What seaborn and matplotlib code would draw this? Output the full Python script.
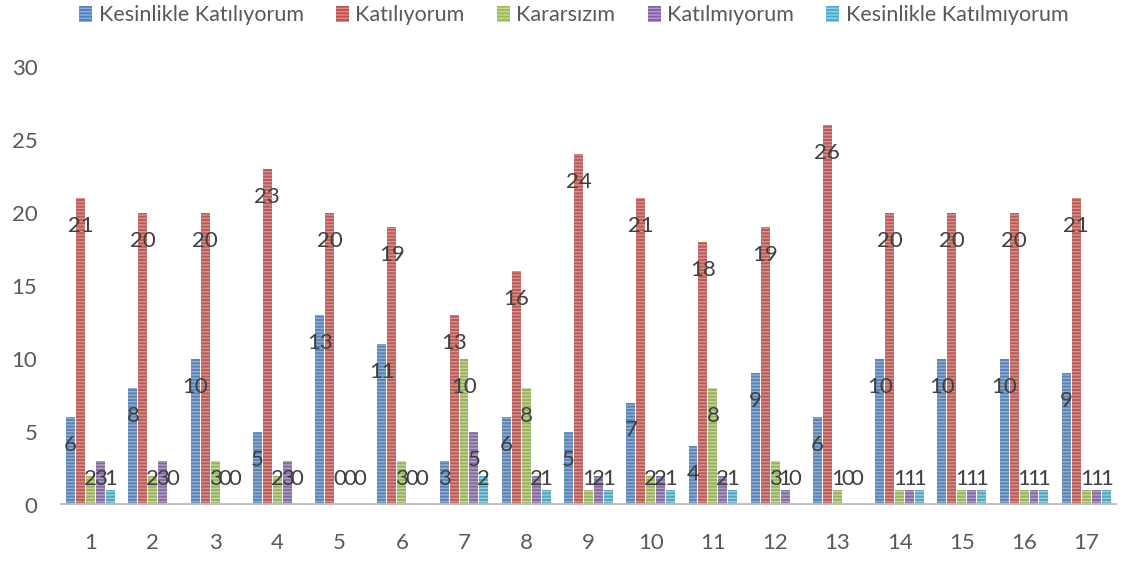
import matplotlib
matplotlib.use("Agg")
import matplotlib.pyplot as plt
import seaborn as sns
import pandas as pd
from matplotlib.patches import Patch

questions = [str(i) for i in range(1, 18)]
series = ["Kesinlikle Katılıyorum", "Katılıyorum", "Kararsızım",
          "Katılmıyorum", "Kesinlikle Katılmıyorum"]
kesinlikle_katiliyorum = [6, 8, 10, 5, 13, 11, 3, 6, 5, 7, 4, 9, 6, 10, 10, 10, 9]
katiliyorum = [21, 20, 20, 23, 20, 19, 13, 16, 24, 21, 18, 19, 26, 20, 20, 20, 21]
kararsizim = [2, 2, 3, 2, 0, 3, 10, 8, 1, 2, 8, 3, 1, 1, 1, 1, 1]
katilmiyorum = [3, 3, 0, 3, 0, 0, 5, 2, 2, 2, 2, 1, 0, 1, 1, 1, 1]
kesinlikle_katilmiyorum = [1, 0, 0, 0, 0, 0, 2, 1, 1, 1, 1, 0, 0, 1, 1, 1, 1]
colors = ["#4F81BD", "#C0504D", "#9BBB59", "#8064A2", "#4BACC6"]
hatch_colors = ["#8FB0DA", "#E08E8C", "#C4DA95", "#B39DCF", "#8ED3E6"]

values = [kesinlikle_katiliyorum, katiliyorum, kararsizim, katilmiyorum,
          kesinlikle_katilmiyorum]
rows = []
for s, vals in zip(series, values):
    for q, v in zip(questions, vals):
        rows.append({"Soru": q, "Cevap": s, "Sayı": v})
df = pd.DataFrame(rows)

sns.set_style("white")
plt.rcParams["font.family"] = ["Lato", "DejaVu Sans"]
plt.rcParams["hatch.linewidth"] = 1.0

fig = plt.figure(figsize=(11.23, 5.66), dpi=100)
ax = fig.add_axes([0.053, 0.108, 0.942, 0.774])

sns.barplot(data=df, x="Soru", y="Sayı", hue="Cevap", hue_order=series,
            palette=colors, width=0.8, gap=0.1, ax=ax, legend=False)

for cont, hc in zip(ax.containers, hatch_colors):
    for bar in cont:
        bar.set_hatch("-----")
        bar.set_edgecolor(hc)
        bar.set_linewidth(0)

# value labels, Excel style: a little below the bar top
for cont in ax.containers:
    for bar in cont:
        v = bar.get_height()
        cx = bar.get_x() + bar.get_width() / 2
        ax.text(cx, max(v - 1.9, 1.8), f"{int(v)}", ha="center", va="center",
                fontsize=16, color="#404040")

ax.set_ylim(0, 30)
ax.set_xlim(-0.5, 16.5)
ax.set_yticks([0, 5, 10, 15, 20, 25, 30])
ax.set_xlabel("")
ax.set_ylabel("")
for sp in ax.spines.values():
    sp.set_visible(False)
ax.axhline(0, color="#BFBFBF", lw=3.5, zorder=3)
ax.tick_params(axis="both", length=0, labelsize=16, labelcolor="#595959")
ax.tick_params(axis="x", pad=20)
ax.tick_params(axis="y", pad=16)

handles = [Patch(facecolor=c, edgecolor=hc, hatch="-----", linewidth=0)
           for c, hc in zip(colors, hatch_colors)]
fig.legend(handles, series, loc="upper center", bbox_to_anchor=(0.511, 1.025),
           ncol=5, frameon=False, fontsize=15.5, labelcolor="#595959",
           handlelength=0.6, handleheight=0.8, handletextpad=0.3,
           columnspacing=1.5)

fig.savefig("out.png", dpi=100)
